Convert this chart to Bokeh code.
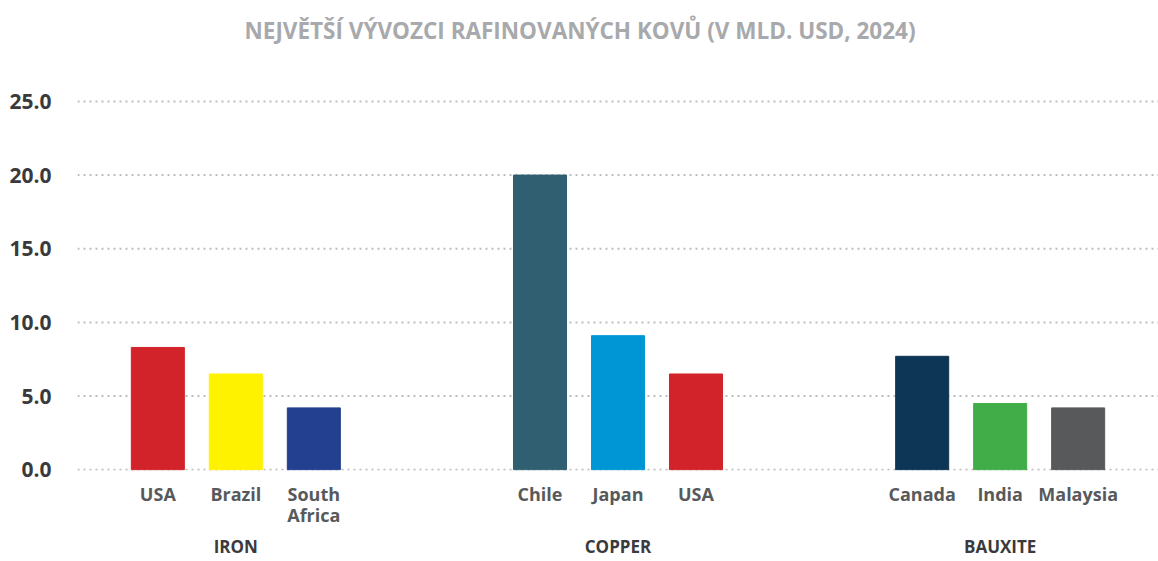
from bokeh.plotting import figure
from bokeh.models import FactorRange, Range1d, ColumnDataSource, NumeralTickFormatter, FixedTicker, Span
from bokeh.embed import file_html
from bokeh.resources import INLINE

title_text = "NEJVĚTŠÍ VÝVOZCI RAFINOVANÝCH KOVŮ (V MLD. USD, 2024)"
groups = ["IRON", "COPPER", "BAUXITE"]
iron_countries = ["USA", "Brazil", "South\nAfrica"]
iron_values = [8.3, 6.5, 4.2]
copper_countries = ["Chile", "Japan", "USA"]
copper_values = [20.0, 9.1, 6.5]
bauxite_countries = ["Canada", "India", "Malaysia"]
bauxite_values = [7.7, 4.5, 4.2]
y_ticks = [0, 5, 10, 15, 20, 25]
bar_colors = ["#d2232a", "#fff200", "#233f8f",
              "#305f72", "#0096d6", "#d2232a",
              "#0d3656", "#41ad49", "#58595b"]

factors = []
values = []
for g, cs, vs in zip(groups, [iron_countries, copper_countries, bauxite_countries],
                     [iron_values, copper_values, bauxite_values]):
    for c, v in zip(cs, vs):
        factors.append((g, c))
        values.append(v)

source = ColumnDataSource(data=dict(x=factors, top=values, color=bar_colors))

x_range = FactorRange(*factors, factor_padding=0, group_padding=1.9,
                      range_padding=0.53, range_padding_units="absolute")

p = figure(x_range=x_range, y_range=Range1d(-0.05, 25.4), width=1158, height=561,
           output_backend="svg", toolbar_location=None,
           min_border_left=77, min_border_right=0, min_border_bottom=0, min_border_top=0,
           title=title_text)

for t in y_ticks:
    p.add_layout(Span(location=t, dimension="width", line_color="#bdbdbd",
                      line_dash="2 4", line_width=2, level="underlay"))

p.vbar(x="x", top="top", bottom=0, width=0.68, color="color", source=source)

p.title.align = "left"
p.title.offset = 167
p.title.standoff = 0
p.title.padding = dict(left=0, right=0, top=12, bottom=50)
p.title.text_font = "Open Sans"
p.title.text_font_style = "bold"
p.title.text_font_size = "22.5px"
p.title.text_color = "#a7a9ac"

p.outline_line_color = None
p.background_fill_color = "white"
p.border_fill_color = "white"

p.xgrid.grid_line_color = None
p.ygrid.grid_line_color = None

p.yaxis.ticker = FixedTicker(ticks=y_ticks)
p.yaxis.formatter = NumeralTickFormatter(format="0.0")
p.yaxis.axis_line_color = None
p.yaxis.major_tick_line_color = None
p.yaxis.minor_tick_line_color = None
p.yaxis.major_label_text_font = "Open Sans"
p.yaxis.major_label_text_font_style = "bold"
p.yaxis.major_label_text_font_size = "21px"
p.yaxis.major_label_text_color = "#3a3a3c"
p.yaxis.major_label_standoff = 20

p.xaxis.axis_line_color = None
p.xaxis.major_tick_line_color = None
p.xaxis.minor_tick_line_color = None
p.xaxis.separator_line_color = None
p.xaxis.major_label_text_font = "Open Sans"
p.xaxis.major_label_text_font_style = "bold"
p.xaxis.major_label_text_font_size = "18px"
p.xaxis.major_label_text_color = "#58595b"
p.xaxis.major_label_text_line_height = 0.9
p.xaxis.major_label_standoff = 5
p.xaxis.group_text_font = "Open Sans"
p.xaxis.group_text_font_style = "bold"
p.xaxis.group_text_font_size = "17px"
p.xaxis.group_text_color = "#3a3a3c"

open("out.html", "w").write(file_html(p, INLINE))
